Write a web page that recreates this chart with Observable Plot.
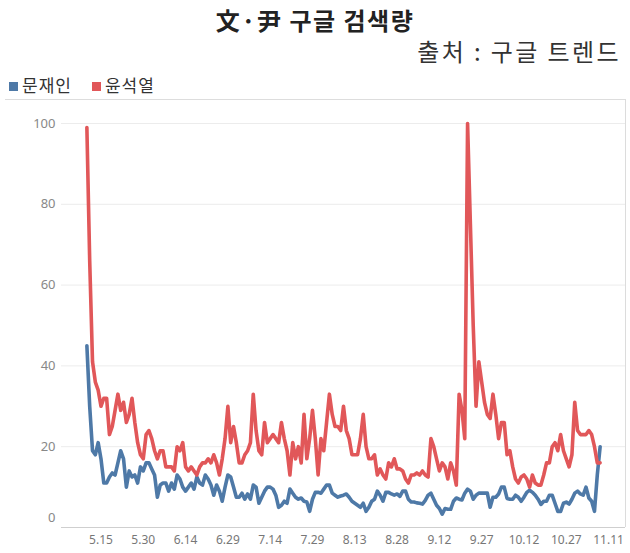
<!DOCTYPE html>
<html><head><meta charset="utf-8">
<script src="https://cdn.jsdelivr.net/npm/d3@7"></script>
<script src="https://cdn.jsdelivr.net/npm/@observablehq/plot@0.6"></script>
<style>
body{margin:0;width:630px;height:553px;position:relative;overflow:hidden;background:#fff;font-family:"Noto Sans CJK KR","Noto Sans",sans-serif;}
#title{position:absolute;left:0;width:630px;top:5px;text-align:center;font-size:24px;font-weight:700;color:#222;line-height:30px;letter-spacing:1.5px;}
#sub{position:absolute;right:9px;top:36px;font-size:24px;color:#333;line-height:30px;letter-spacing:2.4px;word-spacing:0px;}
#legend{position:absolute;left:9px;top:74px;font-size:17px;color:#333;line-height:22px;display:flex;gap:20px;letter-spacing:1px;}
#legend span.sw{display:inline-block;width:9px;height:9px;margin-right:4px;vertical-align:1px;}
#topline{position:absolute;left:5px;top:99px;width:620px;height:1px;background:#ddd;}
#chart{position:absolute;left:0;top:99px;}
</style></head><body>
<div id="title">文·尹 구글 검색량</div>
<div id="sub">출처 : 구글 트렌드</div>
<div id="legend"></div>
<div id="chart"></div>
<div id="topline"></div>
<script>
const seriesNames = ["문재인", "윤석열"];
const seriesColors = ["#4E79A7", "#E15759"];
const startDate = "2022-05-10";
const moon = [45,30,19,18,21,17,11,11,12.5,13.5,
13,16,19,17,10,14,12.5,13,11,15,
14,16,16,14.5,13,7.5,10.5,11,11,9,
11,9.5,13,12,10,9,10,11,9.5,12.5,
11,10.5,13,12,10.5,8,10.5,9,6.5,10,
13,12.5,10,7.5,7.5,8.5,7,8.3,7,10.5,
10,6,7.5,9,10,10,9.5,8,5,5.5,
6.5,6,9.5,8.5,7.5,7,7.3,6.5,6.3,4,
7,8.7,8.7,8.5,9.5,10.5,10.5,8.5,8,7.5,
7.8,8,8.3,7.5,6.5,6,5.5,5,6,4,
5,6.5,7,9,8,6.5,8.7,8.7,8.3,8,
8.3,7.7,9,9,7,6.3,6.3,6.1,6,5.8,
6.7,8,8.5,7,5.5,4.7,3.3,4.7,4.5,4.5,
6.5,7.3,7,6.8,8.5,9.5,9,7,8,8.5,
8.5,8.5,8.5,5,7.5,7.5,8.3,10,10,7.2,
7,7,8,7.5,6.5,7.5,8.7,9.2,8.7,8,
7,5.7,6.5,6.5,8,8,6,4,4,6,
6.3,5.8,7,8.5,9,8.3,8,10,7.3,6.5,
4,13,20];
const yoon = [99,66,41,36,34,30,32,32,23,25,
29,33,29,31,26,28,32,26,21,18,
17,23,24,22,19,17,19,19,15,15,
15,14,20,19,21,15,14,15,14,13,
15,16,16,17,16,18,16,13,17,22,
30,21,25,21,16,16,18,19,21,33,
24,19,18,26,21,22,23,22,21,26,
22,19,13,21,17,20,16,28,17,22,
29,22,13,22,19,26,33,28,25,25,
24,30,24,22,18,18,18,22,28,20,
17,17,18,13,14.5,13,12,16,15,17,
14.5,14.5,14,12,11,13,13,13.5,13,14,
13,12.5,22,20,17,14,16,15,12,16,
14,10.5,33,29,22,100,75,50,30,41,
36,31,28,27,33,28,22,26,26,18,
19,15,12,11,12.5,13,12,10,13,11,
10.5,10.5,13,16,16,20,21,19,23,19,
17,15,18,31,24,23,23,23,24,23,
20,16,16];
const tickDates = ["2022-05-15","2022-05-30","2022-06-14","2022-06-29","2022-07-14","2022-07-29","2022-08-13","2022-08-28","2022-09-12","2022-09-27","2022-10-12","2022-10-27","2022-11-11"];
const tickLabels = ["5.15","5.30","6.14","6.29","7.14","7.29","8.13","8.28","9.12","9.27","10.12","10.27","11.11"];
const yTicks = [20,40,60,80,100];

// legend
const lg = document.getElementById("legend");
seriesNames.forEach((n,i)=>{
  const d = document.createElement("div");
  d.innerHTML = `<span class="sw" style="background:${seriesColors[i]}"></span>${n}`;
  lg.appendChild(d);
});

const t0 = new Date(startDate + "T00:00:00Z");
const rows = [];
[moon, yoon].forEach((arr, s) => arr.forEach((v, i) => rows.push({date: d3.utcDay.offset(t0, i), value: v, series: seriesNames[s]})));
const tDates = tickDates.map(s => new Date(s + "T00:00:00Z"));
const labelOf = new Map(tDates.map((d,i)=>[+d, tickLabels[i]]));
const domainStart = d3.utcDay.offset(t0, -9);
const domainEnd = new Date("2022-11-17T00:00:00Z");

const chart = Plot.plot({
  width: 630,
  height: 454,
  marginLeft: 61,
  marginRight: 5,
  marginTop: 24,
  marginBottom: 26,
  style: {fontFamily: "'Noto Sans', sans-serif", background: "transparent"},
  x: {type: "utc", domain: [domainStart, domainEnd]},
  y: {domain: [0, 100]},
  color: {domain: seriesNames, range: seriesColors},
  marks: [
    Plot.ruleY(yTicks, {stroke: "#ececec", strokeWidth: 1}),
    Plot.ruleY([0], {stroke: "#cfcfcf", strokeWidth: 1}),
    Plot.ruleX([domainEnd], {stroke: "#dcdcdc", strokeWidth: 1, insetTop: -24}),
    Plot.axisY(yTicks, {anchor: "left", tickSize: 0, tickPadding: 6, label: null, fontSize: 13, fill: "#888"}),
    Plot.axisY([0], {anchor: "left", tickSize: 0, tickPadding: 6, label: null, fontSize: 13, fill: "#888", dy: -10}),
    Plot.axisX(tDates, {anchor: "bottom", tickSize: 0, tickPadding: 8, label: null, fontSize: 12, fill: "#777", tickFormat: d => labelOf.get(+d)}),
    Plot.lineY(rows, {x: "date", y: "value", z: "series", stroke: "series", strokeWidth: 3.6, strokeLinejoin: "round", strokeLinecap: "round"})
  ]
});
document.getElementById("chart").appendChild(chart);
</script>
</body></html>
